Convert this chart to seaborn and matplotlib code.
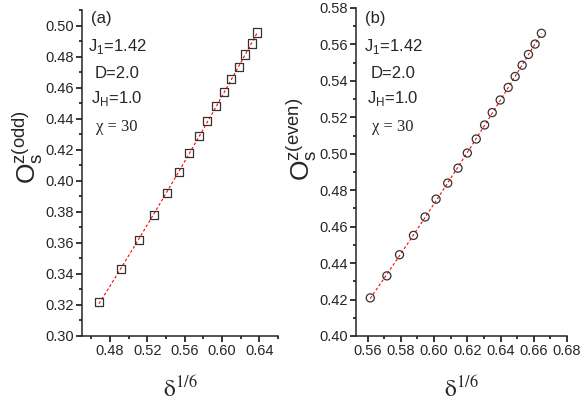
import seaborn as sns
import matplotlib.pyplot as plt
import pandas as pd
import numpy as np
from matplotlib.ticker import MultipleLocator

# panel (a): odd sites
delta_odd = [0.4682, 0.4918, 0.5111, 0.5272, 0.5412, 0.5541, 0.5648, 0.5756,
             0.5842, 0.5938, 0.6024, 0.6099, 0.6185, 0.6250, 0.6325, 0.6378]
os_odd = [0.3219, 0.3432, 0.3619, 0.3781, 0.3923, 0.4058, 0.4181, 0.4290,
          0.4387, 0.4484, 0.4574, 0.4658, 0.4735, 0.4813, 0.4884, 0.4955]

# panel (b): even sites
delta_even = [0.5616, 0.5716, 0.5792, 0.5876, 0.5946, 0.6012, 0.6082, 0.6144,
              0.6200, 0.6254, 0.6304, 0.6350, 0.6398, 0.6446, 0.6488, 0.6530,
              0.6568, 0.6608, 0.6646]
os_even = [0.4209, 0.4330, 0.4446, 0.4552, 0.4653, 0.4751, 0.4839, 0.4921,
           0.5004, 0.5081, 0.5158, 0.5226, 0.5295, 0.5364, 0.5424, 0.5486,
           0.5545, 0.5602, 0.5661]

params = ['J$_\\mathregular{1}$=1.42', 'D=2.0', 'J$_\\mathregular{H}$=1.0']

odd = pd.DataFrame({'x': delta_odd, 'y': os_odd})
even = pd.DataFrame({'x': delta_even, 'y': os_even})

sns.set_style('ticks')
plt.rcParams['font.family'] = ['Liberation Sans', 'DejaVu Sans']

fig = plt.figure(figsize=(5.81, 4.01), dpi=100)
ax1 = fig.add_axes([0.1411, 0.1621, 0.3373, 0.813])
ax2 = fig.add_axes([0.6127, 0.1621, 0.3632, 0.818])

line_kws = dict(color='red', lw=0.8, ls=(0, (2.5, 2)))
for ax, df, mk in [(ax1, odd, 's'), (ax2, even, 'o')]:
    sns.regplot(data=df, x='x', y='y', order=2, ci=None, scatter=False,
                line_kws=line_kws, ax=ax)
    sns.scatterplot(data=df, x='x', y='y', marker=mk, s=34, facecolor='none',
                    edgecolor='#333333', linewidth=0.9, ax=ax, zorder=3)

ax1.set_xlim(0.45, 0.66)
ax1.set_ylim(0.30, 0.51)
ax1.set_xticks([0.48, 0.52, 0.56, 0.60, 0.64])
ax1.xaxis.set_minor_locator(MultipleLocator(0.02))
ax1.set_yticks(np.arange(0.30, 0.501, 0.02))
ax1.yaxis.set_minor_locator(MultipleLocator(0.01))

ax2.set_xlim(0.553, 0.68)
ax2.set_ylim(0.40, 0.58)
ax2.set_xticks(np.arange(0.56, 0.681, 0.02))
ax2.xaxis.set_minor_locator(MultipleLocator(0.01))
ax2.set_yticks(np.arange(0.40, 0.581, 0.02))
ax2.yaxis.set_minor_locator(MultipleLocator(0.01))

for ax in (ax1, ax2):
    sns.despine(ax=ax)
    ax.spines['left'].set_linewidth(1.1)
    ax.spines['bottom'].set_linewidth(1.1)
    ax.xaxis.set_major_formatter(plt.FormatStrFormatter('%.2f'))
    ax.yaxis.set_major_formatter(plt.FormatStrFormatter('%.2f'))
    ax.tick_params(which='major', direction='out', length=4, width=1.1,
                   labelsize=10.5, color='black', pad=2)
    ax.tick_params(which='minor', direction='out', length=2.5, width=1.1,
                   color='black')
    ax.set_xlabel(r'$\mathrm{\delta}^{1/6}$', fontsize=17, math_fontfamily='stix')
    ax.xaxis.set_label_coords(0.5, -0.125)

ax1.set_ylabel(r'$\mathregular{O_s^{z(odd)}}$', fontsize=19)
ax2.set_ylabel(r'$\mathregular{O_s^{z(even)}}$', fontsize=19)
ax1.yaxis.set_label_coords(-0.19, 0.58)
ax2.yaxis.set_label_coords(-0.175, 0.60)

# text blocks
for ax, tag, xl, xc in [(ax1, '(a)', 91, 117), (ax2, '(b)', 365, 393)]:
    fig.text(xl / 581, 1 - 19 / 401, tag, fontsize=12, va='center', ha='left')
    for p, yy in zip(params, [47, 73, 98]):
        fig.text(xc / 581, 1 - yy / 401, p, fontsize=12, va='center', ha='center')
    fig.text(xc / 581, 1 - 127 / 401, '\u03c7 = 30', fontsize=12, va='center',
             ha='center', family='Liberation Serif')

fig.savefig('out.png', dpi=100)
